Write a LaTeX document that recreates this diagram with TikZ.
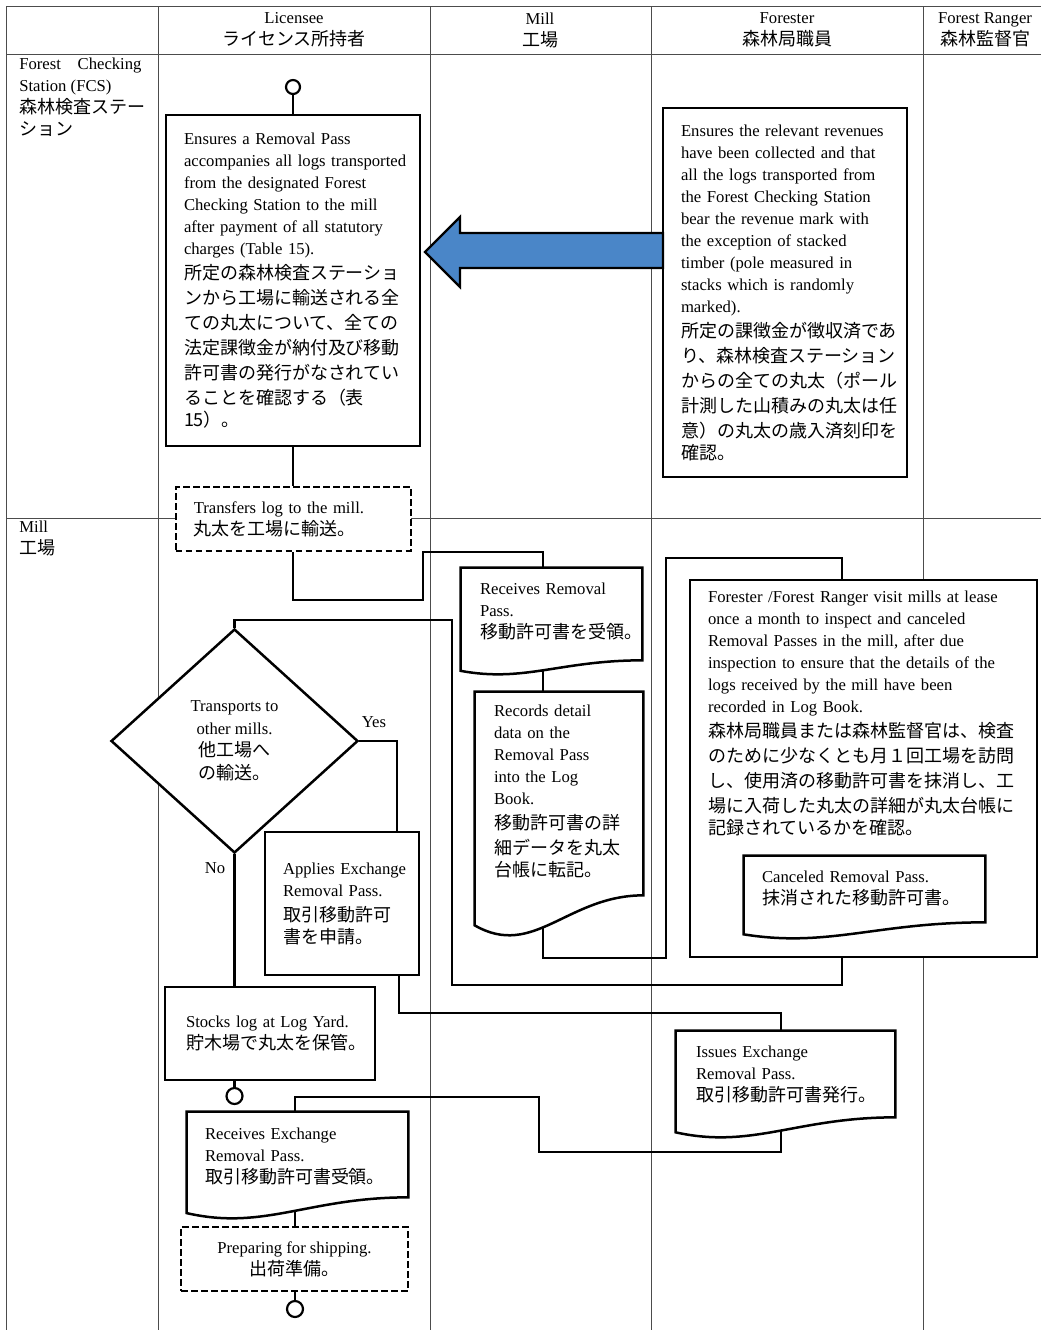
\documentclass[tikz,border=0pt]{standalone}
\usepackage{fontspec}
\setmainfont{Liberation Serif}
\newfontfamily\jpfont{Noto Sans CJK JP}[Scale=1.08]
\newcommand\jp{\jpfont\fontsize{10}{15}\selectfont}
\usetikzlibrary{positioning, calc, shapes.geometric}
\setlength{\parindent}{0pt}

\definecolor{passblue}{RGB}{74,134,200}
\def\pix{0.6pt}

\pgfdeclarelayer{grid}
\pgfdeclarelayer{lines}
\pgfsetlayers{grid,lines,main}

\tikzset{
    gridline/.style={black!70, line width=0.55pt},
    flow/.style={line width=1.35pt},
    box/.style={draw, fill=white, line width=1.6pt, inner sep=0pt},
    dashbox/.style={box, line width=1.2pt, dash pattern=on 4pt off 2pt},
    docbox/.style={inner sep=0pt},
    docline/.style={draw, fill=white, line width=1.5pt},
    term/.style={circle, draw, fill=white, line width=1.3pt, inner sep=0pt},
    decision/.style={diamond, draw, fill=white, line width=1.5pt, inner sep=0pt, align=center, font=\fontsize{10}{13.5}\selectfont},
    txt/.style={inner sep=0pt, anchor=west, align=left, text width=204pt, font=\fontsize{10}{13.2}\selectfont},
    head/.style={inner sep=0pt, align=center, font=\fontsize{10}{13.2}\selectfont},
}

% document shape: flat top, wavy bottom
\newcommand\docframe[2]{%
    \draw[docline] ($(#1.south west)+(0,-0.25*#2)$) -- (#1.north west) -- (#1.north east)
        -- ($(#1.south east)+(0,-#2)$)
        .. controls ($(#1.south west)!0.55!(#1.south east)+(0,-#2)$)
        and ($(#1.south west)!0.35!(#1.south east)+(0,0.6*#2)$)
        .. ($(#1.south west)+(0,-0.25*#2)$) -- cycle;}

\begin{document}
\begin{tikzpicture}[x=\pix, y=-\pix]
    \useasboundingbox (0,0) rectangle (1041,1330);

    % table
    \begin{pgfonlayer}{grid}
        \foreach \y in {6,54,518}
        {
            \draw[gridline] (6,\y) -- (1041,\y);
        }
        \foreach \x in {6,158,430,651,923}
        {
            \draw[gridline] (\x,6) -- (\x,1330);
        }
    \end{pgfonlayer}

    % headers
    \node[head] (hlic) at (294,30) {Licensee\\{\jp ライセンス所持者}};
    \node[head] (hmill) at (540,30) {Mill\\{\jp 工場}};
    \node[head] (hfor) at (787,30) {Forester\\{\jp 森林局職員}};
    \node[head] (hrng) at (985,30) {Forest Ranger\\{\jp 森林監督官}};
    \node[head, align=left, anchor=north west] (rfcs) at (19,58) {Forest\quad Checking\\Station (FCS)\\{\jp 森林検査ステー}\\{\jp ション}};
    \node[head, align=left, anchor=north west] (rmill) at (19,521) {Mill\\{\jp 工場}};

    % forest checking station
    \node[term, minimum size=14*\pix] (startA) at (293,87) {};
    \node[box, minimum width=254*\pix, minimum height=331*\pix] (ensure) at (293,280.5) {};
    \node[txt] (ensuretxt) at ($(ensure.west)+(19,0)$) {Ensures a Removal Pass\\accompanies all logs transported\\from the designated Forest\\Checking Station to the mill\\after payment of all statutory\\charges (Table 15).\par\jp 所定の森林検査ステーショ\\ンから工場に輸送される全\\ての丸太について、全ての\\法定課徴金が納付及び移動\\許可書の発行がなされてい\\ることを確認する（表\\15）。};

    \node[dashbox, minimum width=235*\pix, minimum height=64*\pix] (transfer) at (293,519) {};
    \node[txt] (transfertxt) at ($(transfer.west)+(19,0)$) {Transfers log to the mill.\par\jp 丸太を工場に輸送。};

    \node[box, minimum width=244*\pix, minimum height=369*\pix] (revenue) at (785,292.5) {};
    \node[txt] (revenuetxt) at ($(revenue.west)+(19,0)$) {Ensures the relevant revenues\\have been collected and that\\all the logs transported from\\the Forest Checking Station\\bear the revenue mark with\\the exception of stacked\\timber (pole measured in\\stacks which is randomly\\marked).\par\jp 所定の課徴金が徴収済であ\\り、森林検査ステーション\\からの全ての丸太（ポール\\計測した山積みの丸太は任\\意）の丸太の歳入済刻印を\\確認。};

    % big arrow
    \draw[line width=1.3pt, fill=passblue] (663,233) -- (460,233) -- (460,217) -- (425,252) -- (460,287) -- (460,268) -- (663,268) -- cycle;

    % mill
    \coordinate (millx) at (543,0);
    \node[docbox, minimum width=181*\pix, minimum height=106*\pix] (recvpass) at (551.5,621) {};
    \docframe{recvpass}{14}
    \node[txt] (recvpasstxt) at ($(recvpass.west)+(19,-10)$) {Receives Removal\\Pass.\par\jp 移動許可書を受領。};

    \node[docbox, minimum width=168*\pix, minimum height=243*\pix] (records) at (559,813.5) {};
    \docframe{records}{40}
    \node[txt] (recordstxt) at ($(records.west)+(19,-22)$) {Records detail\\data on the\\Removal Pass\\into the Log\\Book.\par\jp 移動許可書の詳\\細データを丸太\\台帳に転記。};

    \node[box, minimum width=347*\pix, minimum height=377*\pix] (fcheck) at (863.5,768.5) {};
    \node[txt, anchor=north west] (fchecktxt) at ($(fcheck.north west)+(19,12)$) {Forester /Forest Ranger visit mills at lease\\once a month to inspect and canceled\\Removal Passes in the mill, after due\\inspection to ensure that the details of the\\logs received by the mill have been\\recorded in Log Book.\par\jp 森林局職員または森林監督官は、検査\\のために少なくとも月１回工場を訪問\\し、使用済の移動許可書を抹消し、工\\場に入荷した丸太の詳細が丸太台帳に\\記録されているかを確認。};
    \node[docbox, minimum width=241*\pix, minimum height=82*\pix] (canceled) at (864.5,897) {};
    \docframe{canceled}{16}
    \node[txt] (canceledtxt) at ($(canceled.west)+(18,-9)$) {Canceled Removal Pass.\par\jp 抹消された移動許可書。};

    \node[decision, minimum width=247*\pix, minimum height=224*\pix, aspect=1.1] (decide) at (234.5,741) {Transports to\\other mills.\\{\jp 他工場へ}\\{\jp の輸送。}};
    \node[head] (yes) at (374,722) {Yes};
    \node[head] (no) at (215,868) {No};

    \node[box, minimum width=154*\pix, minimum height=143*\pix] (applies) at (342,903.5) {};
    \node[txt] (appliestxt) at ($(applies.west)+(19,0)$) {Applies Exchange\\Removal Pass.\par\jp 取引移動許可\\書を申請。};

    \node[box, minimum width=210*\pix, minimum height=93*\pix] (stocks) at (270,1033.5) {};
    \node[txt] (stockstxt) at ($(stocks.west)+(22,0)$) {Stocks log at Log Yard.\par\jp 貯木場で丸太を保管。};
    \node[term, minimum size=16*\pix] (midpt) at (234.5,1096) {};

    \node[docbox, minimum width=221*\pix, minimum height=106*\pix] (recvexch) at (297.5,1165) {};
    \docframe{recvexch}{21}
    \node[txt] (recvexchtxt) at ($(recvexch.west)+(18,-9)$) {Receives Exchange\\Removal Pass.\par\jp 取引移動許可書受領。};

    \node[dashbox, minimum width=227*\pix, minimum height=64*\pix, align=center, font=\fontsize{10}{13.2}\selectfont] (prep) at (294.5,1259) {Preparing for shipping.\\{\jp 出荷準備。}};
    \node[term, minimum size=16*\pix] (endpt) at (295,1309) {};

    \node[docbox, minimum width=219*\pix, minimum height=106*\pix] (issues) at (785.5,1084) {};
    \docframe{issues}{20}
    \node[txt] (issuestxt) at ($(issues.west)+(20,-10)$) {Issues Exchange\\Removal Pass.\par\jp 取引移動許可書発行。};

    % bends
    \coordinate (w1) at (423,600);
    \coordinate (w2) at (543,552);
    \coordinate (w3) at (666,958);
    \coordinate (w4) at (842,558);
    \coordinate (w5) at (452,620);
    \coordinate (w6) at (842,985);
    \coordinate (w7) at (397,741);
    \coordinate (w8) at (399,1013);
    \coordinate (w9) at (781,1013);
    \coordinate (w10) at (539,1152);
    \coordinate (w11) at (295,1097);

    % connectors
    \begin{pgfonlayer}{lines}
        \draw[flow] (startA) -- (ensure);
        \draw[flow] (ensure) -- (transfer);
        \draw[flow] (transfer.south) |- (w1) |- (w2) -- (w2 |- recvpass.north);
        \draw[flow] (millx |- recvpass.center) -- (millx |- records.north);
        \draw[flow] (millx |- records.center) |- (w3) |- (w4) -- (w4 |- fcheck.north);
        \draw[flow] (decide.north) |- (w5) |- (w6) -- (w6 |- fcheck.south);
        \draw[flow] (decide.east) -- (w7) -- (w7 |- applies.north);
        \draw[flow] (decide.south) -- (decide.south |- stocks.north);
        \draw[flow] (w8 |- applies.south) -- (w8) -- (w9) -- (w9 |- issues.north);
        \draw[flow] (w9 |- issues.center) |- (w10) |- (w11) -- (w11 |- recvexch.north);
        \draw[flow] (decide.south |- stocks.south) -- (midpt);
        \draw[flow] (w11 |- recvexch.center) -- (w11 |- prep.north);
        \draw[flow] (endpt |- prep.south) -- (endpt);
    \end{pgfonlayer}
\end{tikzpicture}
\end{document}
